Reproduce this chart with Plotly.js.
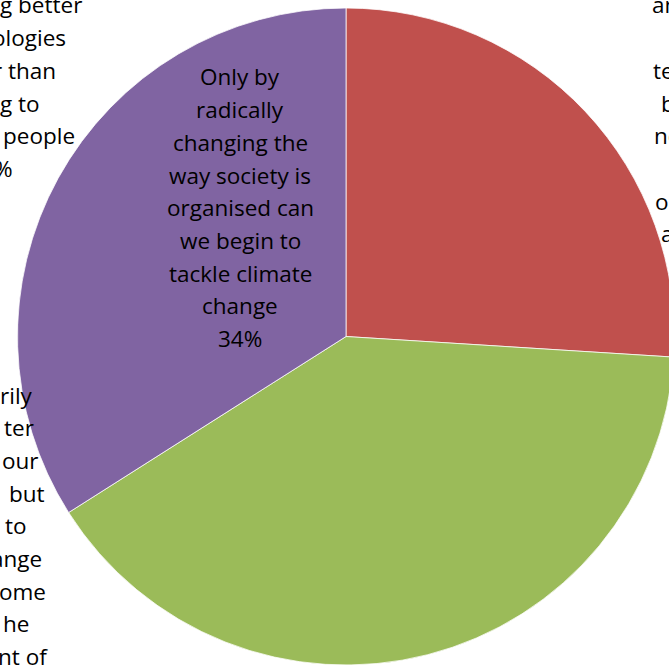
<!DOCTYPE html>
<html>
<head>
<meta charset="utf-8">
<script src="https://cdn.plot.ly/plotly-3.0.1.min.js"></script>
<style>
html, body { margin: 0; padding: 0; overflow: hidden; background: #ffffff; }
#chart { width: 700px; height: 700px; }
</style>
</head>
<body>
<div id="chart"></div>
<script>
// ---- data ----
var categories = [
  "Developing better technologies is better than trying to change people",
  "Not necessarily better behaviour but need to change some the amount of",
  "Only by radically changing the way society is organised can we begin to tackle climate change"
];
var sliceValues = [26, 40, 34];
var sliceColors = ["#C0504D", "#9BBB59", "#8064A2"];

// visible label text (the chart is cropped, so outer labels are cut off)
var purpleLabelLines = ["Only by", "radically", "changing the", "way society is", "organised can", "we begin to", "tackle climate", "change", "34%"];
var topLeftLabelLines = ["g better", "ologies", "r than", "g to", "people", "%"];
var rightLabelLines = ["an", "", "te", "b", "ne", "", "o", "a"];
var bottomLeftLabelLines = ["rily", "ter", "our", "but", "to", "ange", "ome", "he", "nt of"];

// ---- layout helpers ----
var W = 700, H = 700;
var cx = 346, cy = 336.5, R = 328.5;
var lineGap = 32.7;
var fontSpec = {family: "'Open Sans', Lato, sans-serif", size: 22.5, color: "#000000"};

function makeLines(lines, px, py0, anchor, endXs) {
  var out = [];
  lines.forEach(function (t, i) {
    if (!t) return;
    var x = endXs ? endXs[i] : px;
    out.push({
      text: t, xref: "paper", yref: "paper",
      x: x / W, y: 1 - (py0 + i * lineGap) / H,
      xanchor: anchor, yanchor: "middle",
      showarrow: false, font: fontSpec
    });
  });
  return out;
}

var annotations = []
  .concat(makeLines(purpleLabelLines, 240, 77, "center"))
  .concat(makeLines(topLeftLabelLines, 0, 5, "right", [84, 68, 58, 42, 77, 15]))
  .concat(makeLines(rightLabelLines, 0, 5, "left", [650, 0, 651, 659, 652, 0, 653, 659]))
  .concat(makeLines(bottomLeftLabelLines, 0, 395, "right", [35, 36, 41, 47, 29, 44, 48, 31, 50]));

var trace = {
  type: "pie",
  labels: categories,
  values: sliceValues,
  sort: false,
  direction: "clockwise",
  rotation: 0,
  textinfo: "none",
  hoverinfo: "none",
  showlegend: false,
  marker: {colors: sliceColors, line: {color: "#ffffff", width: 0.75}},
  domain: {
    x: [(cx - R) / W, (cx + R) / W],
    y: [1 - (cy + R) / H, 1 - (cy - R) / H]
  }
};

Plotly.newPlot("chart", [trace], {
  width: W, height: H,
  margin: {l: 0, r: 0, t: 0, b: 0, pad: 0},
  paper_bgcolor: "#ffffff",
  plot_bgcolor: "#ffffff",
  showlegend: false,
  annotations: annotations
}, {staticPlot: true, displayModeBar: false});
</script>
</body>
</html>
